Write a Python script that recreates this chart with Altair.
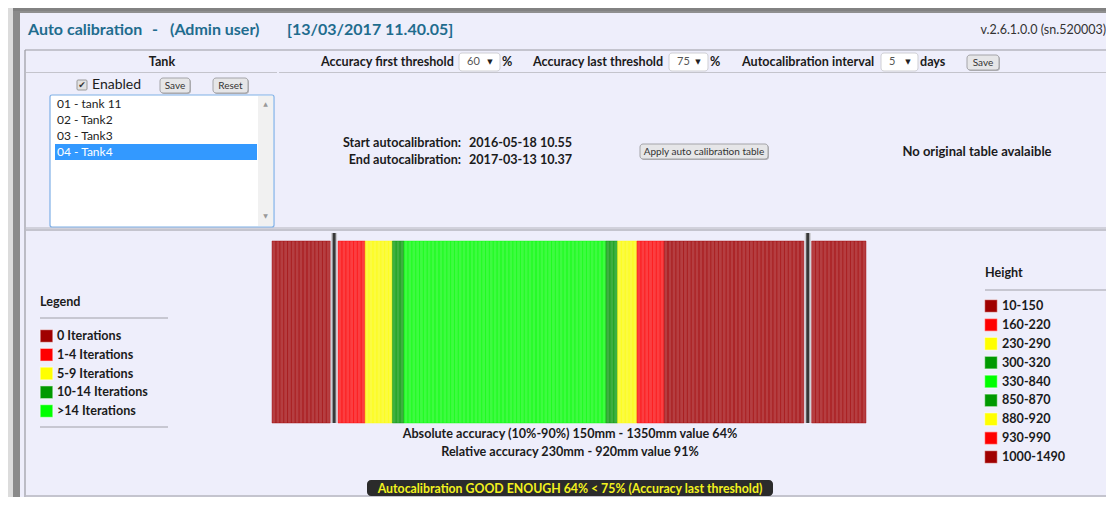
import altair as alt
import pandas as pd

# ---------------- data ----------------
height_ranges = ["10-150", "160-220", "230-290", "300-320", "330-840",
                 "850-870", "880-920", "930-990", "1000-1490"]
range_low = [10, 160, 230, 300, 330, 850, 880, 930, 1000]
range_high = [150, 220, 290, 320, 840, 870, 920, 990, 1490]
range_class = ["0 Iterations", "1-4 Iterations", "5-9 Iterations", "10-14 Iterations",
               ">14 Iterations", "10-14 Iterations", "5-9 Iterations", "1-4 Iterations",
               "0 Iterations"]
iter_labels = ["0 Iterations", "1-4 Iterations", "5-9 Iterations", "10-14 Iterations",
               ">14 Iterations"]
iter_colors = ["#A00000", "#FF0000", "#FFFF00", "#009900", "#00FF00"]
marker_heights = [150, 1350]
step_mm = 10

tank_items = ["01 - tank 11", "02 - Tank2", "03 - Tank3", "04 - Tank4"]
selected_tank = "04 - Tank4"

title_parts = ["Auto calibration", "-", "(Admin user)", "[13/03/2017 11.40.05]"]
version_text = "v.2.6.1.0.0 (sn.520003)"
first_threshold = "60"
last_threshold = "75"
interval_days = "5"
start_calib = "2016-05-18 10.55"
end_calib = "2017-03-13 10.37"
abs_text = "Absolute accuracy (10%-90%) 150mm - 1350mm value 64%"
rel_text = "Relative accuracy 230mm - 920mm value 91%"
status_text = "Autocalibration GOOD ENOUGH 64% < 75% (Accuracy last threshold)"

# ---------------- build tables ----------------
rows = []
slots = []
for lbl, lo, hi, cls in zip(height_ranges, range_low, range_high, range_class):
    h = lo
    while h <= hi:
        rows.append({"slot": str(h), "height": h, "cls": cls, "range": lbl})
        slots.append(str(h))
        if h in marker_heights:
            slots += ["m%da" % h, "m%db" % h]
        h += step_mm
bars_df = pd.DataFrame(rows)
markers_df = pd.DataFrame({"slot": ["m%da" % m for m in marker_heights]})

W, H = 1098, 489
FONT = "Lato"
TXT = "#1b1b1b"
BG = "#EEEEFB"
BODY = 12.6
one = pd.DataFrame({"a": [0]})


def P(v):
    return v - 8


def T(text, x, y, size=BODY, weight="bold", color=TXT, align="left", font=FONT):
    return alt.Chart(one).mark_text(
        text=text, align=align, baseline="middle", fontSize=size,
        fontWeight=weight, color=color, font=font
    ).encode(x=alt.value(P(x)), y=alt.value(P(y)))


def R(x1, y1, x2, y2, fill, stroke=None, sw=1.0, radius=0, opacity=1.0):
    kw = dict(fill=fill, cornerRadius=radius, opacity=opacity)
    if stroke:
        kw.update(stroke=stroke, strokeWidth=sw)
    else:
        kw.update(strokeWidth=0)
    return alt.Chart(one).mark_rect(**kw).encode(
        x=alt.value(P(x1)), x2=alt.value(P(x2)),
        y=alt.value(P(y1)), y2=alt.value(P(y2)))


def Ln(x1, y1, x2, y2, color="#a8a8b4", w=1.0):
    return alt.Chart(one).mark_rule(color=color, strokeWidth=w).encode(
        x=alt.value(P(x1)), x2=alt.value(P(x2)),
        y=alt.value(P(y1)), y2=alt.value(P(y2)))


def button(x1, y1, x2, y2, label, size=10):
    return [R(x1 + 1, y1 + 1, x2 + 1, y2 + 1, "#b0b0b4", radius=3),
            R(x1, y1, x2, y2, "#E6E6E8", stroke="#a4a4a8", sw=1, radius=3),
            T(label, (x1 + x2) / 2, (y1 + y2) / 2 + 0.5, size=size, weight="normal",
              color="#333", align="center")]


def select(x1, y1, x2, y2, value):
    return [R(x1, y1, x2, y2, "#FFFFFF", stroke="#cfcfd4", sw=1, radius=3),
            T(value, x1 + 8, (y1 + y2) / 2, size=11, weight="normal", color="#555"),
            T("▼", x2 - 10, (y1 + y2) / 2, size=7, weight="normal", color="#222",
              align="center", font="DejaVu Sans")]


layers = []
# window frame / background
layers.append(R(8, 8, 1106, 497, BG))
layers.append(R(8, 8, 1106, 13, "#8f8f8f"))
layers.append(R(8, 8, 13, 497, "#dcdcdc"))
layers.append(R(13, 8, 20, 497, "#8a8a8a"))
layers.append(R(13, 8, 1106, 11, "#7a7a7a", opacity=0.6))

# title row
for txt, x in zip(title_parts, [28, 152, 170, 287]):
    layers.append(T(txt, x, 30, size=16, weight="bold", color="#1F6C8E"))
layers.append(T(version_text, 1106, 30, size=12.5, weight="normal", color="#333", align="right"))

# table lines
layers.append(Ln(25, 50, 1106, 50, "#9a9aa2", 1.2))
layers.append(Ln(25, 50, 25, 497, "#9a9aa2", 1.2))
layers.append(Ln(26, 72.5, 277, 72.5, "#c4c4cc", 1))
layers.append(Ln(279, 72.5, 1106, 72.5, "#c4c4cc", 1))
layers.append(Ln(26, 228, 1106, 228, "#b4b4bc", 1))
layers.append(Ln(26, 230, 1106, 230, "#9a9aa2", 1.2))
layers.append(Ln(26, 496, 1106, 496, "#9a9aa2", 1.2))

# header row
layers.append(T("Tank", 162, 62, align="center"))
layers.append(T("Accuracy first threshold", 321, 62))
layers += select(459, 53, 500, 71, first_threshold)
layers.append(T("%", 502, 62))
layers.append(T("Accuracy last threshold", 533, 62))
layers += select(669, 53, 708, 71, last_threshold)
layers.append(T("%", 710, 62))
layers.append(T("Autocalibration interval", 742, 62))
layers += select(881, 53, 918, 71, interval_days)
layers.append(T("days", 920, 62))
layers += button(967, 55, 999, 70, "Save")

# tank controls
layers.append(R(77, 80, 87, 90, "#e2e2e2", stroke="#9a9a9a", sw=1, radius=1))
layers.append(T("✔", 82, 85, size=9, weight="normal", color="#333", align="center",
                font="DejaVu Sans"))
layers.append(T("Enabled", 92, 85, size=14, weight="normal"))
layers += button(160, 78, 190, 93, "Save")
layers += button(213, 78, 248, 93, "Reset")

# list box
layers.append(R(50, 95, 274, 227, "#FFFFFF", stroke="#7FB0E6", sw=1.2, radius=2))
layers.append(R(258, 96, 273, 226, "#F1F1F1"))
layers.append(T("▲", 265.5, 104, size=6, weight="normal", color="#999", align="center",
                font="DejaVu Sans"))
layers.append(T("▼", 265.5, 216, size=6, weight="normal", color="#999", align="center",
                font="DejaVu Sans"))
for i, item in enumerate(tank_items):
    y = 104 + 16 * i
    if item == selected_tank:
        layers.append(R(55, y - 8, 257, y + 8, "#3399FF"))
        layers.append(T(item, 57, y, size=12, weight="normal", color="#FFFFFF"))
    else:
        layers.append(T(item, 57, y, size=12, weight="normal", color="#222"))

# calibration info
layers.append(T("Start autocalibration:", 461, 143, align="right"))
layers.append(T(start_calib, 469, 143))
layers.append(T("End autocalibration:", 461, 160, align="right"))
layers.append(T(end_calib, 469, 160))
layers += button(640, 144, 768, 159, "Apply auto calibration table")
layers.append(T("No original table avalaible", 977, 152, size=13, align="center"))

# ---------------- bars ----------------
xscale = alt.Scale(domain=slots, range=[P(272), P(866)], paddingInner=0, paddingOuter=0)
cscale = alt.Scale(domain=iter_labels, range=iter_colors)
bars = alt.Chart(bars_df).mark_bar(fillOpacity=0.74, strokeWidth=0.5, strokeOpacity=0.85).encode(
    x=alt.X("slot:O", scale=xscale, axis=None),
    y=alt.value(P(241)), y2=alt.value(P(423)),
    fill=alt.Fill("cls:N", scale=cscale, legend=None),
    stroke=alt.Stroke("cls:N", scale=cscale, legend=None),
)
marker_bg = alt.Chart(markers_df).mark_rule(color="#c9c9cf", strokeWidth=6).encode(
    x=alt.X("slot:O", scale=xscale, axis=None, bandPosition=1),
    y=alt.value(P(233)), y2=alt.value(P(423)))
marker = alt.Chart(markers_df).mark_rule(color="#383838", strokeWidth=3).encode(
    x=alt.X("slot:O", scale=xscale, axis=None, bandPosition=1),
    y=alt.value(P(233)), y2=alt.value(P(423)))
layers += [bars, marker_bg, marker]

# ---------------- legends ----------------
layers.append(T("Legend", 40, 302))
layers.append(Ln(40, 318, 168, 318, "#a0a0a8", 1))
layers.append(Ln(40, 427, 168, 427, "#a0a0a8", 1))
leg_df = pd.DataFrame({"label": iter_labels, "cls": iter_labels})
yl = alt.Scale(type="point", domain=iter_labels, range=[P(336), P(411)], padding=0)
layers.append(alt.Chart(leg_df).mark_square(size=160, opacity=1, stroke="white",
                                             strokeWidth=1.2, strokeOpacity=0.45).encode(
    x=alt.value(P(46.5)), y=alt.Y("label:N", scale=yl, axis=None),
    fill=alt.Fill("cls:N", scale=cscale, legend=None)))
layers.append(alt.Chart(leg_df).mark_text(align="left", baseline="middle", fontSize=BODY,
                                           fontWeight="bold", color=TXT, font=FONT).encode(
    x=alt.value(P(57)), y=alt.Y("label:N", scale=yl, axis=None), text="label:N"))

layers.append(T("Height", 985, 273))
layers.append(Ln(985, 290, 1106, 290, "#a0a0a8", 1))
hl_df = pd.DataFrame({"label": height_ranges, "cls": range_class})
yh = alt.Scale(type="point", domain=height_ranges, range=[P(306), P(457)], padding=0)
layers.append(alt.Chart(hl_df).mark_square(size=160, opacity=1, stroke="white",
                                            strokeWidth=1.2, strokeOpacity=0.45).encode(
    x=alt.value(P(991)), y=alt.Y("label:N", scale=yh, axis=None),
    fill=alt.Fill("cls:N", scale=cscale, legend=None)))
layers.append(alt.Chart(hl_df).mark_text(align="left", baseline="middle", fontSize=BODY,
                                          fontWeight="bold", color=TXT, font=FONT).encode(
    x=alt.value(P(1002)), y=alt.Y("label:N", scale=yh, axis=None), text="label:N"))

# ---------------- accuracy texts ----------------
layers.append(T(abs_text, 570, 434, align="center"))
layers.append(T(rel_text, 570, 452, align="center"))
layers.append(R(367, 480, 773, 496, "#2B2B2B", radius=4))
layers.append(T(status_text, 570, 488.5, size=12.3, color="#F2F21E", align="center"))

chart = alt.layer(*layers).resolve_scale(
    x="independent", y="independent", fill="independent", stroke="independent"
).properties(
    width=W, height=H, padding=0, autosize=alt.AutoSizeParams(type="none"),
    background="#FFFFFF"
).configure_view(stroke=None)

chart.save("out.html", embed_options={"renderer": "svg", "actions": False})
